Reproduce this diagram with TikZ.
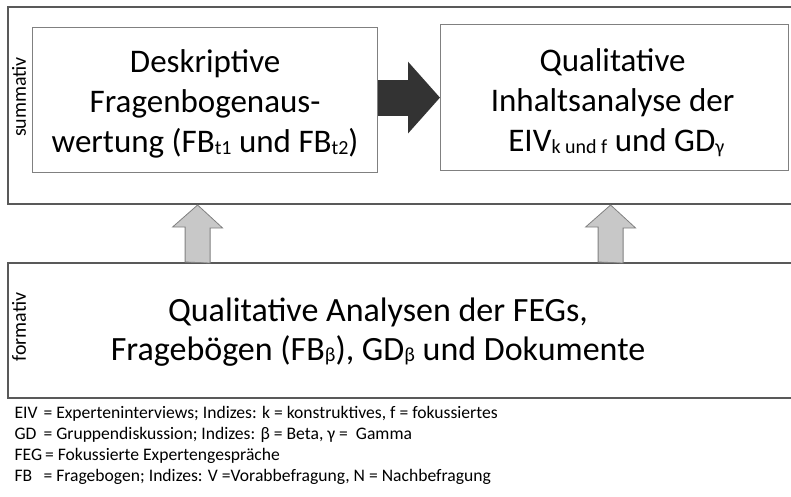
\documentclass[tikz,border=0pt]{standalone}
\usepackage{fontspec}
\setmainfont{Carlito}
\usetikzlibrary{arrows.meta,calc}
\definecolor{rahmen}{HTML}{595959}
\definecolor{kasten}{HTML}{808080}
\definecolor{pfeil}{HTML}{333333}
\definecolor{hoch}{HTML}{C8C8C8}
\newcommand{\ind}[1]{\raisebox{-1.5pt}{\fontsize{20}{20}\selectfont #1}}
\newcommand{\abk}[1]{\makebox[29pt][l]{#1}}

\begin{document}
\begin{tikzpicture}[x=1pt, y=-1pt,
    outer/.style={draw=rahmen, line width=2pt, anchor=north west, minimum width=800pt, inner sep=0pt},
    inner/.style={draw=kasten, line width=1.2pt, anchor=north west, inner sep=0pt},
    boxtext/.style={align=center, font=\fontsize{33}{40}\selectfont},
    seite/.style={rotate=90, font=\fontsize{20}{20}\selectfont},
    uparrow/.style={fill=hoch, draw=kasten, line width=0.8pt},
    darkarrow/.style={pfeil, line width=36pt, -{Triangle[length=32pt, width=70pt]}}]
  \useasboundingbox (0,0) rectangle (791,496);
  \clip (0,0) rectangle (791,496);
  % summativ
  \node[outer, minimum height=197pt] (sumbox) at (7,6) {};
  \node[seite] (sumlabel) at (19,97) {summativ};
  \node[inner, minimum width=345pt, minimum height=145pt] (deskr) at (32,27) {};
  \node[boxtext] (deskrtext) at ([yshift=-4pt]deskr.center)
    {Deskriptive\\ Fragenbogenaus-\\ wertung (FB\ind{t1} und FB\ind{t2})};
  \node[inner, minimum width=348pt, minimum height=146pt] (quali) at (440,24) {};
  \node[boxtext] (qualitext) at ([yshift=-5pt, xshift=-2pt]quali.center)
    {Qualitative\\ Inhaltsanalyse der\\ \ EIV\ind{k und f} und GD\ind{γ}};
  \draw[darkarrow] (deskr.east |- quali.west) -- (quali.west);
  % formativ
  \node[outer, minimum height=135pt] (formbox) at (7,262) {};
  \node[seite] (formlabel) at (19,327) {formativ};
  \node[boxtext, font=\fontsize{34}{39}\selectfont] (formtext) at (378,332)
    {Qualitative Analysen der FEGs,\\ Fragebögen (FB\ind{β}), GD\ind{β} und Dokumente};
  \coordinate (a1) at ([xshift=-7.5pt]deskr.south |- formbox.north);
  \coordinate (a2) at ([xshift=-4pt]quali.south |- formbox.north);
  \filldraw[uparrow] (a1) ++(-12.5,0) -- ++(0,-35) -- ++(-12.5,0) -- (a1 |- sumbox.south) -- ++(25,23) -- ++(-12.5,0) -- ++(0,35) -- cycle;
  \filldraw[uparrow] (a2) ++(-12.5,0) -- ++(0,-35) -- ++(-12.5,0) -- (a2 |- sumbox.south) -- ++(25,23) -- ++(-12.5,0) -- ++(0,35) -- cycle;
  % Legende
  \node[anchor=north west, align=left, font=\fontsize{17.6}{21}\selectfont] (legende) at (11,403)
    {\abk{EIV}= Experteninterviews; Indizes: k = konstruktives, f = fokussiertes\\
     \abk{GD}= Gruppendiskussion; Indizes: β = Beta, γ =~~Gamma\\
     FEG\hspace{3pt}= Fokussierte Expertengespräche\\
     \abk{FB}= Fragebogen; Indizes: V =Vorabbefragung, N = Nachbefragung};
\end{tikzpicture}
\end{document}
